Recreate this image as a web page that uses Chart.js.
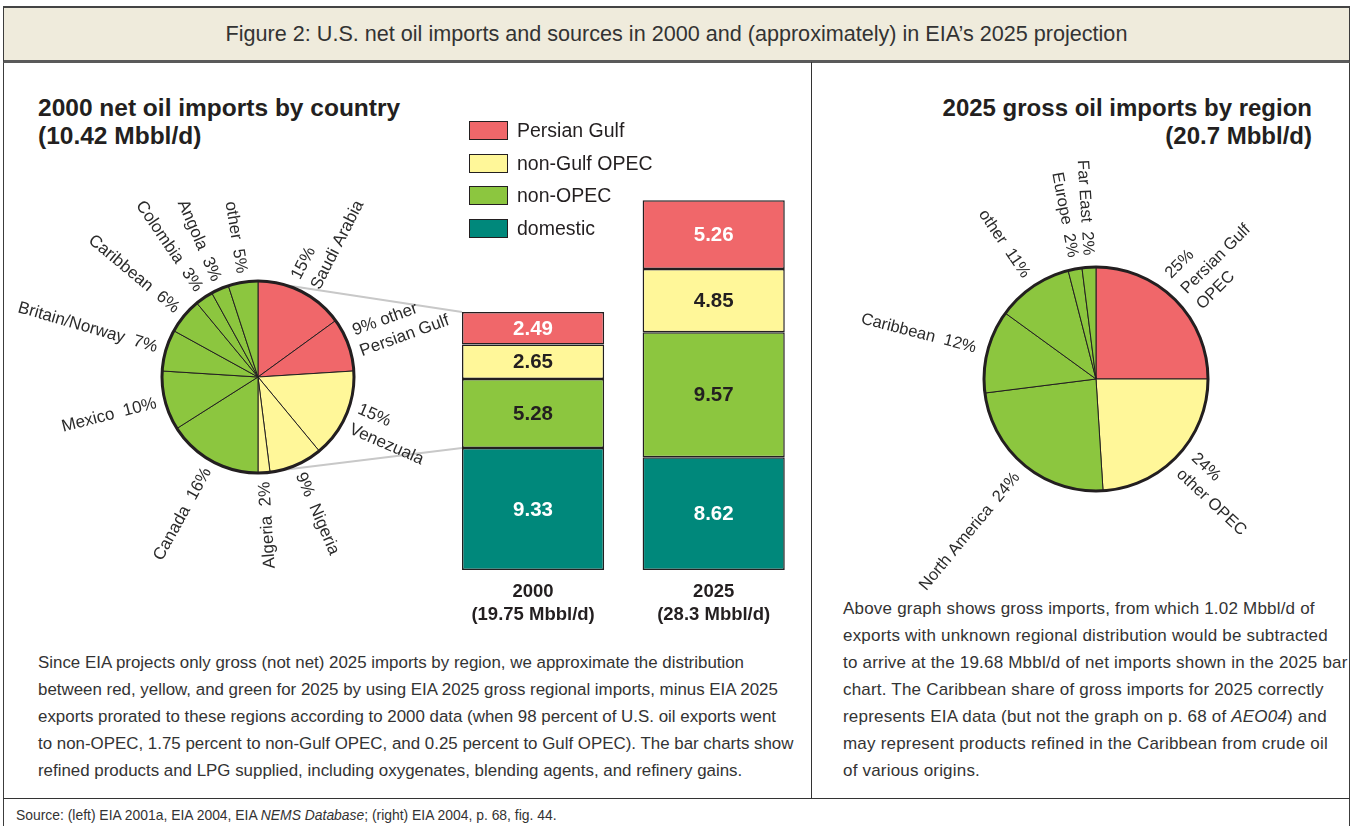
<!DOCTYPE html>
<html>
<head>
<meta charset="utf-8">
<script src="https://cdn.jsdelivr.net/npm/chart.js@4.4.0/dist/chart.umd.min.js"></script>
<style>
  html, body { margin: 0; padding: 0; background: #fff; }
  body { width: 1354px; height: 826px; overflow: hidden; position: relative; font-family: "Liberation Sans", Arial, sans-serif; color: #2b2b2b; }
  .abs { position: absolute; }
  #frame { left: 3px; top: 6px; width: 1347px; height: 840px; border-left: 1.5px solid #3c3c3c; border-right: 1.5px solid #3c3c3c; box-sizing: border-box; }
  #titlebar { left: 3px; top: 6px; width: 1347px; height: 57px; box-sizing: border-box; background: #efebdc; border-top: 2px solid #444; border-bottom: 3px solid #5a5a5a; border-left: 1.5px solid #3c3c3c; border-right: 1.5px solid #3c3c3c; text-align: center; font-size: 21.6px; line-height: 52px; color: #333; }
  #divider { left: 811px; top: 62px; height: 736px; border-left: 1.5px solid #333; }
  #bottomrule { left: 3px; top: 798px; width: 1347px; border-top: 1.5px solid #333; }
  .heading { font-weight: bold; line-height: 28px; color: #231f20; white-space: nowrap; }
  .para { line-height: 27px; color: #333; white-space: nowrap; }
  #source { left: 16px; top: 805px; font-size: 13.9px; line-height: 20px; color: #333; white-space: nowrap; }
  #legend { left: 469px; top: 121px; }
  .lg-row { height: 32.5px; display: flex; align-items: flex-start; }
  .lg-box { width: 39px; height: 19px; box-sizing: border-box; border: 1.2px solid #231f20; margin-right: 9px; }
  .lg-text { font-size: 19.5px; line-height: 19px; color: #231f20; }
  canvas { position: absolute; }
</style>
</head>
<body>
<div id="frame" class="abs"></div>
<div id="titlebar" class="abs">Figure 2: U.S. net oil imports and sources in 2000 and (approximately) in EIA’s 2025 projection</div>
<div id="divider" class="abs"></div>
<div id="bottomrule" class="abs"></div>

<div class="abs heading" style="left:38px; top:94px; font-size:24.5px;">2000 net oil imports by country<br>(10.42 Mbbl/d)</div>
<div class="abs heading" style="right:42px; top:94px; font-size:24px; text-align:right;">2025 gross oil imports by region<br>(20.7 Mbbl/d)</div>

<canvas id="bars" width="810" height="580" style="left:0; top:62px;"></canvas>
<canvas id="pieLeft" width="810" height="580" style="left:0; top:62px;"></canvas>
<canvas id="pieRight" width="538" height="530" style="left:812px; top:62px;"></canvas>
<div id="legend" class="abs"></div>

<div class="abs para" style="left:38px; top:649px; font-size:16.9px;">Since EIA projects only gross (not net) 2025 imports by region, we approximate the distribution<br>between red, yellow, and green for 2025 by using EIA 2025 gross regional imports, minus EIA 2025<br>exports prorated to these regions according to 2000 data (when 98 percent of U.S. oil exports went<br>to non-OPEC, 1.75 percent to non-Gulf OPEC, and 0.25 percent to Gulf OPEC). The bar charts show<br>refined products and LPG supplied, including oxygenates, blending agents, and refinery gains.</div>
<div class="abs para" style="left:843px; top:595px; font-size:17px; letter-spacing:0.2px;">Above graph shows gross imports, from which 1.02 Mbbl/d of<br>exports with unknown regional distribution would be subtracted<br>to arrive at the 19.68 Mbbl/d of net imports shown in the 2025 bar<br>chart. The Caribbean share of gross imports for 2025 correctly<br>represents EIA data (but not the graph on p. 68 of <i>AEO04</i>) and<br>may represent products refined in the Caribbean from crude oil<br>of various origins.</div>
<div id="source" class="abs">Source: (left) EIA 2001a, EIA 2004, EIA <i>NEMS Database</i>; (right) EIA 2004, p. 68, fig. 44.</div>

<script>
// 2000 net imports by country (percent of 10.42 Mbbl/d), clockwise from 12 o'clock
var countries2000 = ['\nSaudi Arabia', 'other\nPersian Gulf', '\nVenezuala', 'Nigeria', 'Algeria', 'Canada', 'Mexico', 'Britain/Norway', 'Caribbean', 'Colombia', 'Angola', 'other'];
var shares2000 = [15, 9, 15, 9, 2, 16, 10, 7, 6, 3, 3, 5];
var groups2000 = ['gulf', 'gulf', 'opec', 'opec', 'opec', 'non', 'non', 'non', 'non', 'non', 'non', 'non'];

// 2025 gross imports by region (percent of 20.7 Mbbl/d)
var regions2025 = ['\nPersian Gulf\nOPEC', '\nother OPEC', 'North America', 'Caribbean', 'other', 'Europe', 'Far East'];
var shares2025 = [25, 24, 24, 12, 11, 2, 2];
var groups2025 = ['gulf', 'opec', 'non', 'non', 'non', 'non', 'non'];

// stacked bars, Mbbl/d
var barYears = [['2000', '(19.75 Mbbl/d)'], ['2025', '(28.3 Mbbl/d)']];
var domestic = [9.33, 8.62];
var nonOpec = [5.28, 9.57];
var nonGulfOpec = [2.65, 4.85];
var persianGulf = [2.49, 5.26];
var seriesNames = ['domestic', 'non-OPEC', 'non-Gulf OPEC', 'Persian Gulf'];

var FONT = '"Liberation Sans", Arial, sans-serif';
var INK = '#231f20';
var groupColors = { gulf: '#f0676a', opec: '#fff799', non: '#8cc63f', dom: '#00887b' };
var seriesColors = [groupColors.dom, groupColors.non, groupColors.opec, groupColors.gulf];
var valueColors = ['#ffffff', INK, INK, '#ffffff'];

var radialLabels = {
  id: 'radialLabels',
  afterDatasetsDraw: function(chart, args, opts) {
    var ctx = chart.ctx;
    var meta = chart.getDatasetMeta(0);
    var ds = chart.data.datasets[0];
    ctx.save();
    ctx.font = opts.size + 'px ' + FONT;
    ctx.fillStyle = '#2b2b2b';
    ctx.textBaseline = 'middle';
    meta.data.forEach(function(arc, i) {
      var mid = (arc.startAngle + arc.endAngle) / 2;
      var outward = Math.cos(mid) > 0.1;
      var pct = ds.data[i] + '%';
      var name = chart.data.labels[i];
      var text = outward ? pct + (name.indexOf('\n') >= 0 ? ' ' : '  ') + name : name + '  ' + pct;
      var lines = text.split('\n');
      var d = arc.outerRadius + opts.gap;
      ctx.save();
      ctx.translate(arc.x, arc.y);
      ctx.rotate(outward ? mid : mid + Math.PI);
      ctx.textAlign = outward ? 'left' : 'right';
      lines.forEach(function(line, k) {
        var dy = (k - (lines.length - 1) / 2) * opts.lineHeight;
        ctx.fillText(line, outward ? d : -d, dy);
      });
      ctx.restore();
    });
    var a = meta.data[0];
    ctx.beginPath();
    ctx.arc(a.x, a.y, a.outerRadius, 0, Math.PI * 2);
    ctx.lineWidth = 3;
    ctx.strokeStyle = INK;
    ctx.stroke();
    ctx.restore();
  }
};

function pieConfig(labels, data, groups, radius, padding, gap, size) {
  return {
    type: 'pie',
    data: {
      labels: labels,
      datasets: [{
        data: data,
        backgroundColor: groups.map(function(g) { return groupColors[g]; }),
        borderColor: INK,
        borderWidth: 1
      }]
    },
    options: {
      responsive: false,
      animation: false,
      events: [],
      radius: radius,
      layout: { padding: padding },
      plugins: {
        legend: { display: false },
        tooltip: { enabled: false },
        radialLabels: { size: size, gap: gap, lineHeight: 22 }
      }
    },
    plugins: [radialLabels]
  };
}

var pieLeft = new Chart(document.getElementById('pieLeft'),
  pieConfig(countries2000, shares2000, groups2000, 96, { left: 0, right: 294, top: 50, bottom: 0 }, 9, 17));
var pieRight = new Chart(document.getElementById('pieRight'),
  pieConfig(regions2025, shares2025, groups2025, 112, { left: 30, right: 0, top: 104, bottom: 0 }, 12, 16.5));

var connectors = {
  id: 'connectors',
  beforeDatasetsDraw: function(chart) {
    var ctx = chart.ctx;
    var arc = pieLeft.getDatasetMeta(0).data[0];
    var topBar = chart.getDatasetMeta(3).data[0];
    var domBar = chart.getDatasetMeta(0).data[0];
    var left = topBar.x - topBar.width / 2;
    ctx.save();
    ctx.strokeStyle = '#c8c8c8';
    ctx.lineWidth = 2;
    ctx.beginPath();
    ctx.moveTo(arc.x, arc.y - arc.outerRadius);
    ctx.lineTo(left, topBar.y);
    ctx.moveTo(arc.x, arc.y + arc.outerRadius);
    ctx.lineTo(left, domBar.y);
    ctx.stroke();
    ctx.restore();
  }
};

var barValues = {
  id: 'barValues',
  afterDatasetsDraw: function(chart) {
    var ctx = chart.ctx;
    ctx.save();
    ctx.font = 'bold 20.5px ' + FONT;
    ctx.textAlign = 'center';
    ctx.textBaseline = 'middle';
    chart.data.datasets.forEach(function(ds, i) {
      chart.getDatasetMeta(i).data.forEach(function(bar, j) {
        ctx.fillStyle = valueColors[i];
        ctx.fillText(ds.data[j].toFixed(2), bar.x, (bar.y + bar.base) / 2 + 1);
      });
    });
    ctx.restore();
  }
};

var barSeries = [domestic, nonOpec, nonGulfOpec, persianGulf];
new Chart(document.getElementById('bars'), {
  type: 'bar',
  data: {
    labels: barYears,
    datasets: barSeries.map(function(values, i) {
      return {
        label: seriesNames[i],
        data: values,
        backgroundColor: seriesColors[i],
        borderColor: INK,
        borderWidth: 1.5,
        borderSkipped: false,
        barPercentage: 0.787,
        categoryPercentage: 1
      };
    })
  },
  options: {
    responsive: false,
    animation: false,
    events: [],
    layout: { padding: { left: 442.75, right: 6, top: 116, bottom: 0 } },
    plugins: { legend: { display: false }, tooltip: { enabled: false } },
    scales: {
      x: {
        stacked: true,
        grid: { display: false, drawTicks: false },
        border: { display: false },
        ticks: { color: INK, padding: 11, font: { family: FONT, size: 18.5, weight: 'bold', lineHeight: 1.22 } },
        afterFit: function(s) { s.height = 72; }
      },
      y: { stacked: true, display: false, min: 0, max: 30 }
    }
  },
  plugins: [connectors, barValues]
});

// legend, top entry first
var legend = document.getElementById('legend');
for (var i = seriesNames.length - 1; i >= 0; i--) {
  var row = document.createElement('div');
  row.className = 'lg-row';
  row.innerHTML = '<div class="lg-box" style="background:' + seriesColors[i] + '"></div><div class="lg-text">' + seriesNames[i] + '</div>';
  legend.appendChild(row);
}
</script>
</body>
</html>
